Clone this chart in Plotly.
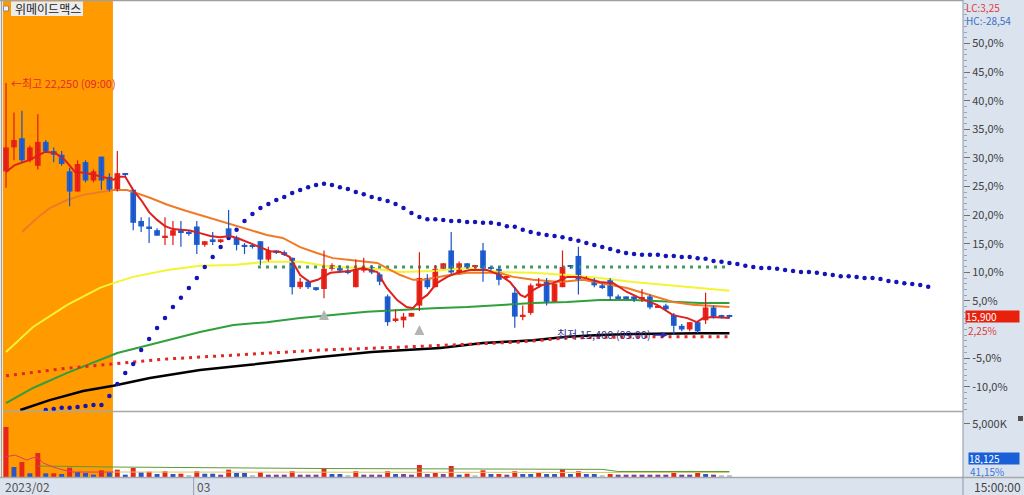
import plotly.graph_objects as go

W, H = 1024, 495
FONT_KR = "Noto Sans CJK KR"

# ---------------- data ----------------
STOCK_NAME = "위메이드맥스"
PREV_CLOSE = 15550          # base of the % axis
HIGHLIGHT_END = 13.45       # last bar (index) of the orange-shaded session
MONTH_LABELS = ["2023/02", "03"]
MONTH_START = [0, 24]
TIME_LABEL = "15:00:00"
VOL_LABEL = "18,125"
VOL_PCT_LABEL = "41,15%"

opens = [19850, 20500, 20750, 20150, 20000, 20650, 20400, 20300, 19850, 19300,
         20100, 19600, 20250, 19700, 19350, 19800, 19350, 18500, 18350, 18250,
         18050, 18100, 18250, 18200, 18350, 17850, 18000, 17950, 18300, 18050,
         17850, 17800, 17950, 17450, 17700, 17650, 17500, 16700, 16850, 16700,
         16650, 17200, 17250, 17150, 16700, 17150, 17250, 17050, 16450, 15800,
         15800, 15900, 16200, 16950, 16700, 17200, 17700, 17050, 17350, 17250,
         17700, 17200, 17200, 16950, 16550, 15900, 16000, 16750, 16850, 16300,
         16700, 17250, 17550, 16950, 16900, 16750, 16900, 16450, 16450, 16450,
         16400, 16450, 16150, 16200, 15950, 15650, 15550, 15750, 15800, 16150,
         15900, 15900]
highs = [22250, 21450, 21500, 20550, 21400, 20700, 20500, 20400, 19950, 20150,
         20150, 19900, 20250, 19800, 20400, 19800, 19350, 18600, 18600, 18300,
         18600, 18500, 18500, 18250, 18500, 17950, 18200, 18000, 18800, 18100,
         17900, 17850, 17950, 17800, 17700, 17700, 17500, 16950, 16900, 16700,
         17700, 17350, 17300, 17200, 17450, 17500, 17300, 17100, 16500, 16100,
         16000, 16000, 17650, 17050, 17300, 17350, 18200, 17400, 17350, 17300,
         17900, 17250, 17250, 17000, 16700, 16200, 16800, 16950, 16950, 16800,
         17700, 17300, 17800, 17000, 16950, 16800, 16950, 16500, 16450, 16450,
         16650, 16500, 16200, 16250, 16000, 15700, 15750, 15750, 16550, 16200,
         15950, 15950]
lows = [19400, 20150, 20100, 20100, 19900, 20350, 20100, 20000, 18900, 19300,
        19550, 19550, 19350, 19300, 19300, 19700, 18250, 18200, 17900, 18100,
        17850, 17850, 17800, 18100, 17600, 17800, 17850, 17900, 18050, 17700,
        17600, 17750, 17300, 17400, 17600, 17550, 16500, 16650, 16650, 16600,
        16400, 17150, 17100, 17050, 16700, 17100, 17050, 16750, 15650, 15750,
        15600, 15900, 16050, 16650, 16700, 17200, 17050, 17050, 17200, 17200,
        16850, 17150, 16750, 16900, 15600, 15800, 15950, 16700, 16200, 16300,
        16700, 17200, 16500, 16950, 16700, 16650, 16350, 16400, 16400, 16300,
        16300, 16100, 16150, 16050, 15400, 15500, 15500, 15450, 15700, 15850,
        15850, 15850]
closes = [20500, 20700, 20150, 20500, 20650, 20400, 20300, 20050, 19300, 20050,
          19600, 19850, 19600, 19350, 19800, 19750, 18450, 18350, 18300, 18100,
          18100, 18250, 18200, 18150, 17850, 17950, 17950, 18000, 18050, 17850,
          17800, 17800, 17450, 17700, 17650, 17600, 16700, 16850, 16700, 16650,
          17200, 17300, 17150, 17100, 17200, 17250, 17100, 16850, 15750, 15850,
          15900, 16000, 16950, 16700, 17200, 17350, 17100, 17350, 17200, 17250,
          17200, 17200, 16900, 16950, 15900, 15950, 16750, 16800, 16300, 16800,
          17250, 17250, 16900, 16950, 16750, 16700, 16450, 16400, 16400, 16350,
          16400, 16150, 16200, 16100, 15650, 15550, 15750, 15500, 16150, 15900,
          15900, 15900]
volumes_k = [4720, 940, 1410, 350, 2260, 350, 350, 280, 880, 470,
             380, 220, 630, 440, 690, 220, 850, 440, 500, 280,
             540, 280, 310, 120, 540, 310, 310, 220, 690, 380,
             380, 120, 440, 220, 220, 220, 540, 220, 220, 220,
             850, 280, 280, 120, 540, 220, 220, 220, 540, 280,
             280, 220, 1130, 280, 380, 280, 1040, 220, 310, 120,
             630, 280, 280, 220, 540, 280, 280, 380, 280, 280,
             730, 280, 540, 280, 280, 120, 280, 220, 220, 220,
             220, 220, 220, 220, 380, 220, 220, 540, 280, 220,
             120, 120]
vol_kind = ["r", "b", "r", "b", "r", "b", "r", "b", "r", "b",
            "b", "b", "r", "b", "r", "b", "r", "b", "r", "b",
            "r", "b", "r", "w", "r", "b", "b", "p", "r", "b",
            "b", "w", "r", "p", "p", "p", "r", "p", "p", "p",
            "r", "b", "b", "w", "r", "p", "p", "p", "r", "b",
            "p", "p", "r", "p", "r", "p", "r", "b", "r", "w",
            "r", "b", "r", "p", "r", "b", "b", "r", "b", "b",
            "r", "b", "r", "b", "b", "w", "r", "p", "p", "p",
            "p", "p", "p", "p", "r", "p", "p", "r", "b", "p",
            "w", "w"]

# moving-average style lines (bar index, price)
ma_fast_idx = [0, 1.1, 3, 4.9, 6.2, 7.4, 8.7, 9.9, 11.2, 12.5,
               13.5, 14.3, 15, 16, 17, 18, 19, 20, 21, 22,
               23.1, 24.4, 25.7, 26.9, 28.2, 29.4, 30.7, 32, 33.2, 34.5,
               35.7, 37, 38.2, 39.2, 39.9, 40.8, 43.3, 44.9, 46.7, 47.9,
               49.2, 50.4, 51.2, 52.1, 53, 54.2, 55.5, 56.7, 58.4, 60.5,
               62.1, 63.4, 64.7, 65.3, 66.3, 67.5, 68.8, 70.6, 72.2, 73.5,
               74.7, 76.4, 78.1, 79.7, 81.9, 83.9, 85.7, 86.9, 87.7, 88.9, 91]
ma_fast_val = [19830, 20020, 20160, 20380, 20350, 20160, 19830, 19810, 19750, 19670,
               19620, 19700, 19700, 19340, 19070, 18740, 18530, 18360, 18280, 18260,
               18240, 18170, 18090, 18060, 18090, 18010, 17900, 17790, 17680, 17660,
               17520, 17030, 16840, 16900, 16980, 17090, 17140, 17220, 17110, 16680,
               16350, 16160, 16130, 16350, 16490, 16810, 16980, 17090, 17170, 17170,
               17030, 16840, 16490, 16430, 16620, 16760, 16810, 16980, 16980, 16900,
               16840, 16810, 16570, 16410, 16220, 15940, 15860, 15750, 15860, 15890, 15860]
ma_mid_idx = [2, 3.9, 5.5, 7.7, 9.7, 11.8, 13.5, 15.2, 16, 18.1,
              20.3, 22.3, 24.4, 26.5, 28.6, 30.7, 32.8, 34.8, 37, 39.1,
              41.1, 43.3, 45.4, 46.7, 47.9, 49.6, 51.2, 52.5, 53.7, 55.8,
              58, 60.5, 62.1, 63.8, 66.3, 69.7, 72.6, 74.7, 78.1, 81,
              83.9, 86.4, 89.4, 91]
ma_mid_val = [18200, 18580, 18850, 19070, 19210, 19290, 19340, 19340, 19290, 19130,
              18940, 18800, 18660, 18530, 18390, 18260, 18120, 18040, 17790, 17630,
              17490, 17440, 17390, 17360, 17220, 17030, 16900, 16900, 16950, 17030,
              17090, 17090, 17090, 16980, 16900, 16840, 16900, 16810, 16680, 16490,
              16300, 16220, 16190, 16160]
ma_long_idx = [0, 3.4, 7.7, 11.8, 13.5, 16, 20.3, 24.4, 28.6, 32.8, 37, 41.1,
               45.4, 49.6, 53.7, 58, 62.1, 66.3, 70.6, 74.7, 78.9, 83.1, 87.3, 91]
ma_long_val = [14940, 15620, 16220, 16680, 16810, 16980, 17170, 17280, 17300, 17390, 17390, 17250,
               17220, 17110, 17140, 17220, 17110, 17090, 17030, 16950, 16840, 16760, 16680, 16600]
ma_120_idx = [0, 3.4, 7.7, 11.8, 14, 16, 20.3, 24.4, 28.6, 32.8, 37, 41.1,
              45.4, 49.6, 53.7, 58, 62.1, 66.3, 70.6, 74.7, 78.9, 83.1, 87.3, 91]
ma_120_val = [13550, 13960, 14370, 14720, 14910, 15020, 15260, 15480, 15670, 15750, 15860, 15940,
              16030, 16080, 16130, 16160, 16220, 16270, 16300, 16350, 16350, 16300, 16270, 16270]
ma_240_idx = [1.8, 5.5, 9.7, 13.5, 18.1, 24.4, 30.7, 37, 39.5, 46,
              54.6, 60, 66.3, 70.6, 74.7, 78.9, 83.1, 87.3, 91]
ma_240_val = [13360, 13630, 13880, 14020, 14230, 14450, 14590, 14750, 14800, 14940,
              15050, 15180, 15260, 15350, 15400, 15430, 15450, 15450, 15450]
env_idx = [0, 3.4, 7.7, 11.8, 16, 20.3, 24.4, 30.3, 37, 39.5, 49.6, 64.7, 70.6, 78.9, 91]
env_val = [14290, 14390, 14500, 14580, 14670, 14750, 14800, 14880, 14970, 14990,
           15070, 15210, 15320, 15350, 15350]
level_idx = [31.7, 91]
level_val = [17250, 17250]

# blue dotted span (one dot per bar, extends past the last candle)
span_start = 5
span_val = [13360, 13390, 13420, 13420, 13440, 13470, 13500, 13500, 13740, 14070,
            14370, 14610, 14990, 15290, 15590, 15860, 16160, 16410, 16680, 16950,
            17250, 17520, 17790, 18040, 18260, 18500, 18690, 18850, 18960, 19070,
            19150, 19260, 19340, 19420, 19480, 19510, 19480, 19420, 19370, 19290,
            19230, 19150, 19100, 19040, 18960, 18850, 18720, 18610, 18550, 18550,
            18530, 18500, 18500, 18470, 18470, 18450, 18450, 18420, 18360, 18340,
            18260, 18200, 18150, 18120, 18090, 18060, 18010, 17960, 17900, 17850,
            17790, 17740, 17680, 17630, 17600, 17580, 17580, 17580, 17550, 17550,
            17520, 17520, 17490, 17470, 17410, 17390, 17360, 17330, 17280, 17250,
            17220, 17220, 17200, 17170, 17140, 17110, 17110, 17090, 17060, 17030,
            17000, 17000, 16980, 16950, 16950, 16920, 16870, 16840, 16810, 16790,
            16760, 16710]

signal_idx = [40, 52]
signal_val = [16080, 15670]

# volume moving lines (bar index, thousand shares)
vma_a_idx = [0, 1.1, 2, 2.6, 3.3, 3.9, 4.7, 5.9, 7.2, 8.4, 13.5]
vma_a_val = [1910, 2070, 1790, 1600, 1790, 1890, 1320, 940, 660, 470, 470]
vma_b_idx = [4, 13.5, 40, 75, 77, 91]
vma_b_val = [1040, 940, 800, 720, 520, 520]
vma_c_idx = [13.5, 91]
vma_c_val = [470, 420]

# ---------------- layout helpers ----------------
def px(x):
    return x / W


def py(y):
    return 1 - y / H


def fmt_pct(v):
    return f"{v:.2f}".replace(".", ",")


n = len(closes)
xs = list(range(n))
X_RANGE = [-0.38, 120.38]
PCT_RANGE = (-14.25, 57.43)
Y_RANGE = [PREV_CLOSE * (1 + p / 100) for p in PCT_RANGE]
VOL_RANGE = [0, 6130]
DOJI_MIN = 35          # minimum drawn body height (price units) so dojis stay visible

RED = "#e8261c"
BLUE = "#1f5fd0"
KIND_COLOR = {"r": "#e8261c", "b": "#2a55c8", "p": "#7a3fa8", "w": "#b9c9dc"}

# candle direction (red = up, blue = down; flat bars compare with previous close)
up = []
for i in range(n):
    if closes[i] != opens[i]:
        up.append(closes[i] > opens[i])
    else:
        up.append(i > 0 and closes[i] > closes[i - 1])

fig = go.Figure()

# lines (drawn under candles)
fig.add_trace(go.Scatter(x=ma_240_idx, y=ma_240_val, mode="lines",
                         line=dict(color="#000000", width=2.5)))
fig.add_trace(go.Scatter(x=ma_120_idx, y=ma_120_val, mode="lines",
                         line=dict(color="#2ea03c", width=2)))
fig.add_trace(go.Scatter(x=ma_long_idx, y=ma_long_val, mode="lines",
                         line=dict(color="#f4f432", width=2)))
fig.add_trace(go.Scatter(x=env_idx, y=env_val, mode="lines",
                         line=dict(color="#e02828", width=3, dash="3px,5px")))
fig.add_trace(go.Scatter(x=level_idx, y=level_val, mode="lines",
                         line=dict(color="#3f9a62", width=3, dash="3px,5px")))
fig.add_trace(go.Scatter(x=list(range(span_start, span_start + len(span_val))), y=span_val,
                         mode="markers", marker=dict(color="#1414b8", size=4.5)))
fig.add_trace(go.Scatter(x=ma_mid_idx, y=ma_mid_val, mode="lines",
                         line=dict(color="#f07a26", width=2)))
fig.add_trace(go.Scatter(x=ma_fast_idx, y=ma_fast_val, mode="lines",
                         line=dict(color="#e0201c", width=2)))

# candles: wicks as 1px lines, bodies as bars
for is_up, col in ((True, "#e01a10"), (False, "#1a52c6")):
    wx, wy = [], []
    for i in range(n):
        if up[i] == is_up:
            wx += [i, i, None]
            wy += [lows[i], highs[i], None]
    fig.add_trace(go.Scatter(x=wx, y=wy, mode="lines", line=dict(color=col, width=1.2)))

body_base = [min(o, c) for o, c in zip(opens, closes)]
body_h = [max(abs(c - o), DOJI_MIN) for o, c in zip(opens, closes)]
fig.add_trace(go.Bar(x=xs, y=body_h, base=body_base, width=0.72,
                     marker=dict(color=[RED if u else BLUE for u in up], line=dict(width=0))))

fig.add_trace(go.Scatter(x=signal_idx, y=signal_val, mode="markers",
                         marker=dict(symbol="arrow-up", size=10, color="#b4b4b4")))

# volume panel
fig.add_trace(go.Bar(x=xs, y=volumes_k, width=0.62,
                     marker=dict(color=[KIND_COLOR[k] for k in vol_kind], line=dict(width=0)),
                     xaxis="x2", yaxis="y2"))
fig.add_trace(go.Scatter(x=vma_c_idx, y=vma_c_val, mode="lines", line=dict(color="#d8c860", width=1),
                         xaxis="x2", yaxis="y2"))
fig.add_trace(go.Scatter(x=vma_b_idx, y=vma_b_val, mode="lines", line=dict(color="#5a9a3a", width=1),
                         xaxis="x2", yaxis="y2"))
fig.add_trace(go.Scatter(x=vma_a_idx, y=vma_a_val, mode="lines", line=dict(color="#e03a6a", width=1),
                         xaxis="x2", yaxis="y2"))

# ---------------- axes ----------------
pct_major = list(range(-10, 55, 5))
tickvals = [PREV_CLOSE * (1 + p / 100) for p in pct_major]
ticktext = ["" if p == 0 else f"{p:.1f}%".replace(".", ",") for p in pct_major]
minor_vals = [PREV_CLOSE * (1 + p / 100) for p in range(-14, 58)]

axis_font = dict(family=FONT_KR, size=11, color="#404040")

fig.update_layout(
    width=W, height=H, template="none",
    margin=dict(l=0, r=0, t=0, b=0),
    paper_bgcolor="white", plot_bgcolor="white",
    showlegend=False, hovermode=False, barmode="overlay",
    font=dict(family=FONT_KR),
    xaxis=dict(domain=[px(3), px(963)], range=X_RANGE, anchor="y",
               showticklabels=False, showgrid=False, zeroline=False, showline=False,
               ticks="", automargin=False),
    xaxis2=dict(domain=[px(3), px(963)], range=X_RANGE, anchor="y2", matches="x",
                showticklabels=False, showgrid=False, zeroline=False, showline=False,
                ticks="", automargin=False),
    yaxis=dict(domain=[py(411), py(1)], range=Y_RANGE, side="right", anchor="x",
               tickmode="array", tickvals=tickvals, ticktext=ticktext,
               ticks="outside", ticklen=6, tickcolor="#707070", tickfont=axis_font,
               minor=dict(tickmode="array", tickvals=minor_vals, ticks="outside",
                          ticklen=3, tickcolor="#9aa4b4"),
               showgrid=False, zeroline=False, showline=False, automargin=False),
    yaxis2=dict(domain=[py(477), py(412)], range=VOL_RANGE, side="right", anchor="x2",
                tickmode="array", tickvals=[5000], ticktext=["5,000K"],
                ticks="outside", ticklen=6, tickcolor="#707070", tickfont=axis_font,
                showgrid=False, zeroline=False, showline=False, automargin=False),
)

# ---------------- shapes ----------------
shapes = [
    dict(type="rect", xref="paper", yref="paper", x0=px(963), x1=1, y0=0, y1=1,
         fillcolor="#dbe3ef", line=dict(width=0), layer="below"),
    dict(type="rect", xref="paper", yref="paper", x0=0, x1=px(963), y0=0, y1=py(478),
         fillcolor="#dbe3ef", line=dict(width=0), layer="below"),
    dict(type="rect", xref="x", yref="paper", x0=X_RANGE[0], x1=HIGHLIGHT_END,
         y0=py(477), y1=py(1), fillcolor="#ff9a00", line=dict(width=0), layer="below"),
    dict(type="line", xref="paper", yref="paper", x0=px(3), x1=px(963), y0=py(411.5), y1=py(411.5),
         line=dict(color="#a8a8a8", width=1.5)),
    dict(type="line", xref="paper", yref="paper", x0=0, x1=1, y0=py(477.5), y1=py(477.5),
         line=dict(color="#a8a8a8", width=1.5)),
    dict(type="line", xref="paper", yref="paper", x0=px(963), x1=px(963), y0=0, y1=1,
         line=dict(color="#8a96a8", width=1)),
    dict(type="line", xref="paper", yref="paper", x0=0, x1=px(963), y0=py(0.5), y1=py(0.5),
         line=dict(color="#a0a0a0", width=1.5)),
    dict(type="line", xref="paper", yref="paper", x0=px(1.5), x1=px(1.5), y0=py(477), y1=1,
         line=dict(color="#a0a0a0", width=1.5)),
    dict(type="line", xref="x", yref="paper", x0=MONTH_START[1] - 0.4, x1=MONTH_START[1] - 0.4,
         y0=0, y1=py(478), line=dict(color="#9aa0a8", width=1)),
    dict(type="rect", xref="paper", yref="paper", x0=px(11), x1=px(83), y0=py(16), y1=py(1.5),
         fillcolor="#ececec", line=dict(width=0)),
    dict(type="rect", xref="paper", yref="paper", x0=px(3.5), x1=px(8.5), y0=py(11), y1=py(6),
         fillcolor="#f4f4f4", line=dict(color="#8a8a8a", width=1)),
    dict(type="rect", xref="paper", yref="paper", x0=px(1018), x1=px(1023), y0=py(421), y1=py(416),
         fillcolor="#505050", line=dict(width=0)),
]
fig.update_layout(shapes=shapes)

# ---------------- annotations ----------------
hi = max(highs)
hi_idx = highs.index(hi)
lo = min(lows)
lo_idx = lows.index(lo)
last = closes[-1]
lc = (last / lo - 1) * 100
hc = (last / hi - 1) * 100
chg = (last / PREV_CLOSE - 1) * 100

small = 10
ann = [
    dict(text=STOCK_NAME, xref="paper", yref="paper", x=px(13), y=py(8.5),
         xanchor="left", yanchor="middle", showarrow=False,
         font=dict(family=FONT_KR, size=12, color="#222222")),
    dict(text=f"←최고 {hi:,} (09:00)", xref="x", yref="y", x=hi_idx, y=hi, xshift=3,
         xanchor="left", yanchor="middle", showarrow=False,
         font=dict(family=FONT_KR, size=11, color="#e42a2a")),
    dict(text=f"최저 {lo:,} (09:00)", xref="x", yref="y", x=lo_idx, y=lo, xshift=-21, yshift=1,
         xanchor="right", yanchor="middle", showarrow=False,
         font=dict(family=FONT_KR, size=11, color="#34348e")),
    dict(text="", xref="x", yref="y", x=lo_idx, y=lo, ax=-22, ay=0, showarrow=True,
         arrowhead=2, arrowsize=1, arrowwidth=1.3, arrowcolor="#2c2cb0", standoff=6),
    dict(text=f"LC:{fmt_pct(lc)}", xref="paper", yref="paper", x=px(964), y=py(7.5),
         xanchor="left", yanchor="middle", showarrow=False,
         font=dict(family=FONT_KR, size=small, color="#e03c3c")),
    dict(text=f"HC:{fmt_pct(hc)}", xref="paper", yref="paper", x=px(964), y=py(20),
         xanchor="left", yanchor="middle", showarrow=False,
         font=dict(family=FONT_KR, size=small, color="#3b6fc4")),
    dict(text=f"{last:,}", xref="paper", yref="y", x=px(965), y=last,
         xanchor="left", yanchor="middle", showarrow=False, align="left",
         width=53, height=11, bgcolor="#e8200c", borderpad=0,
         font=dict(family=FONT_KR, size=small, color="white")),
    dict(text=fmt_pct(chg) + "%", xref="paper", yref="y", x=px(966), y=last, yshift=-14,
         xanchor="left", yanchor="middle", showarrow=False,
         font=dict(family=FONT_KR, size=small, color="#e03c3c")),
    dict(text=VOL_LABEL, xref="paper", yref="paper", x=px(968), y=py(458),
         xanchor="left", yanchor="middle", showarrow=False, align="left",
         width=50, height=11, bgcolor="#1a5fd8", borderpad=0,
         font=dict(family=FONT_KR, size=small, color="white")),
    dict(text=VOL_PCT_LABEL, xref="paper", yref="paper", x=px(968), y=py(471.5),
         xanchor="left", yanchor="middle", showarrow=False,
         font=dict(family=FONT_KR, size=small, color="#3a78d8")),
    dict(text=MONTH_LABELS[0], xref="paper", yref="paper", x=px(3), y=py(486.5),
         xanchor="left", yanchor="middle", showarrow=False,
         font=dict(family=FONT_KR, size=12, color="#555555")),
    dict(text=MONTH_LABELS[1], xref="x", yref="paper", x=MONTH_START[1] - 0.4, y=py(486.5),
         xshift=1, xanchor="left", yanchor="middle", showarrow=False,
         font=dict(family=FONT_KR, size=12, color="#555555")),
    dict(text=TIME_LABEL, xref="paper", yref="paper", x=px(972), y=py(486),
         xanchor="left", yanchor="middle", showarrow=False,
         font=dict(family=FONT_KR, size=12, color="#444444")),
]
fig.update_layout(annotations=ann)

fig.write_html("out.html", config={"displayModeBar": False},
               post_script="document.body.style.margin='0';document.body.style.overflow='hidden';")
